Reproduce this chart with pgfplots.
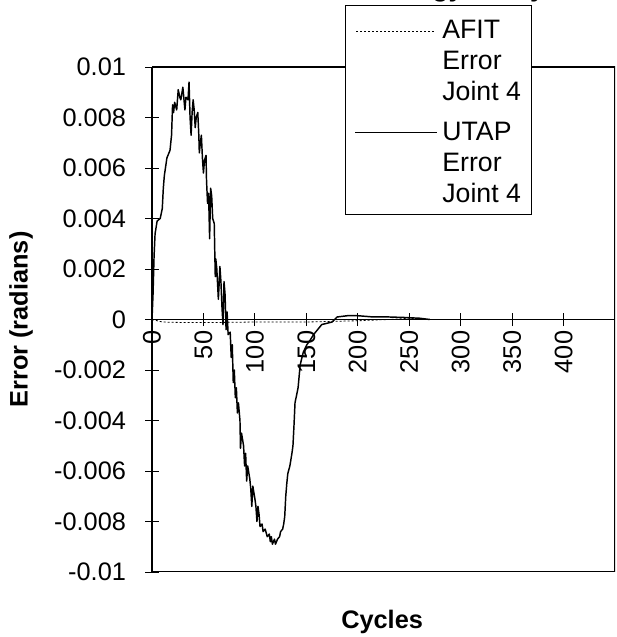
\documentclass[border=0pt]{standalone}
\usepackage{fontspec}
\setmainfont{Liberation Sans}
\usepackage{pgfplots}
\pgfplotsset{compat=1.18}
\pgfplotstableread{
x y
0 0
1 0.0010
2 0.0025
3 0.0034
5 0.0039
8 0.0040
10 0.0044
11 0.0052
12 0.0057
14.5 0.0064
17.5 0.0067
19 0.0073
20 0.0085
21 0.0082
22 0.0086
24 0.0083
25.5 0.0091
27 0.0088
28 0.0087
30 0.0092
32 0.0083
33 0.0088
35 0.0087
36 0.0094
37 0.0080
38 0.0073
39 0.0082
40 0.0087
41 0.0083
42 0.0076
43 0.0080
44.5 0.0082
45.5 0.0073
46 0.0066
47 0.0070
48 0.0073
49 0.0064
50 0.0058
51 0.0063
52.5 0.0065
53 0.0055
54 0.0046
55 0.0050
56 0.0032
57 0.0052
58 0.0049
59 0.0040
60.5 0.0038
61 0.0027
61.5 0.0017
62 0.0024
63 0.0020
64.5 0.0008
65 0.0012
66 0.0021
67 0.0015
68 0.0005
69 -0.0002
70 0.0015
71 0.0010
72 -0.0004
73 0.0003
74 -0.0006
76 -0.0005
77 -0.0015
78 -0.0010
79 -0.0025
80 -0.0020
81 -0.0031
82 -0.0027
83 -0.0037
84 -0.0033
85.5 -0.0040
86 -0.0051
87 -0.0045
89 -0.0050
90 -0.0058
91 -0.0053
92 -0.0064
93 -0.0058
95 -0.0063
96 -0.0067
97 -0.0074
98 -0.0066
100 -0.0071
101 -0.0074
102 -0.0080
103 -0.0074
104 -0.0077
105 -0.0082
107 -0.0081
108 -0.0084
110 -0.0083
112 -0.0086
114 -0.0085
115 -0.0088
116 -0.0086
117 -0.0089
119 -0.0087
120 -0.0089
122 -0.0087
124 -0.0086
125 -0.0084
127 -0.0083
128 -0.0081
129 -0.0078
130 -0.0070
131 -0.0065
132 -0.0061
134 -0.0058
136 -0.0053
137 -0.0050
138 -0.0042
139 -0.0033
141 -0.0029
142 -0.0027
144 -0.0018
147 -0.0013
150.5 -0.0010
154 -0.0008
157 -0.0006
161 -0.0004
165 -0.0002
170 -0.00015
175 -0.0001
180 0.0001
190 0.00015
200 0.00015
215 0.0001
230 0.0001
245 0.00008
260 0.00005
270 0
}\utap
\pgfplotstableread{
x y
0 0
10 -0.0001
30 -0.00012
60 -0.00012
100 -0.0001
150 -0.0001
200 -0.00005
230 0.0
250 0.00005
270 0
}\afit
\begin{document}
\begin{tikzpicture}
\begin{axis}[
  scale only axis, width=347.25pt, height=378.75pt,
  xmin=0, xmax=450, ymin=-0.01, ymax=0.01,
  axis x line=middle, axis y line=left,
  axis line style={-, line width=0.8pt},
  hide obscured x ticks=false, hide obscured y ticks=false,
  scaled y ticks=false, scaled x ticks=false,
  xtick={0,50,100,150,200,250,300,350,400},
  xticklabels={0,50,100,150,200,250,300,350,400},
  ytick={-0.01,-0.008,-0.006,-0.004,-0.002,0,0.002,0.004,0.006,0.008,0.01},
  yticklabels={-0.01,-0.008,-0.006,-0.004,-0.002,0,0.002,0.004,0.006,0.008,0.01},
  tick align=center, major tick length=10pt,
  tick style={black, line width=0.6pt},
  xticklabel style={rotate=90, anchor=east, font=\fontsize{19}{23}\selectfont},
  yticklabel style={font=\fontsize{19}{23}\selectfont, xshift=-11pt},
  xlabel={Cycles}, ylabel={Error (radians)},
  xlabel style={at={(axis description cs:0.497,-0.111)}, anchor=base, font=\bfseries\fontsize{19}{23}\selectfont},
  ylabel style={at={(axis description cs:-0.283,0.5)}, anchor=center, font=\bfseries\fontsize{19}{23}\selectfont},
]
\coordinate (SW) at (rel axis cs:0,0);
\coordinate (NE) at (rel axis cs:1,1);
\draw[line width=0.8pt] (rel axis cs:0,0) rectangle (rel axis cs:1,1);
\addplot[black, line width=0.6pt, dash pattern=on 1.5pt off 1.5pt] table {\afit};
\addplot[black, line width=1.1pt, line join=round] table {\utap};
\end{axis}
\node[anchor=north west, draw=black, line width=0.6pt, fill=white, inner xsep=7.5pt, inner ysep=2pt,
  font=\fontsize{20}{23.3}\selectfont] at ([xshift=-202.5pt,yshift=46.5pt]NE) {%
  \begin{tabular}{@{}l@{\hspace{3.75pt}}l@{}}
  \raisebox{5pt}{\makebox[61.5pt]{\leaders\hbox to 3pt{\hss\rule{1.5pt}{0.6pt}\hss}\hfill}} & \rule{0pt}{22.7pt}AFIT\\
   & Error\\
   & Joint 4\\
  \raisebox{5pt}{\rule{61.5pt}{0.8pt}} & \rule{0pt}{22.7pt}UTAP\\
   & Error\\
   & Joint 4
  \end{tabular}};
\pgfresetboundingbox
\path[use as bounding box] ([xshift=-114pt,yshift=-48.75pt]SW) rectangle ([xshift=0.75pt,yshift=50.25pt]NE);
\node[anchor=base east, font=\bfseries\fontsize{20}{24}\selectfont] at ([xshift=-49pt,yshift=52.5pt]NE) {Error Strategy Study};
\end{tikzpicture}
\end{document}
